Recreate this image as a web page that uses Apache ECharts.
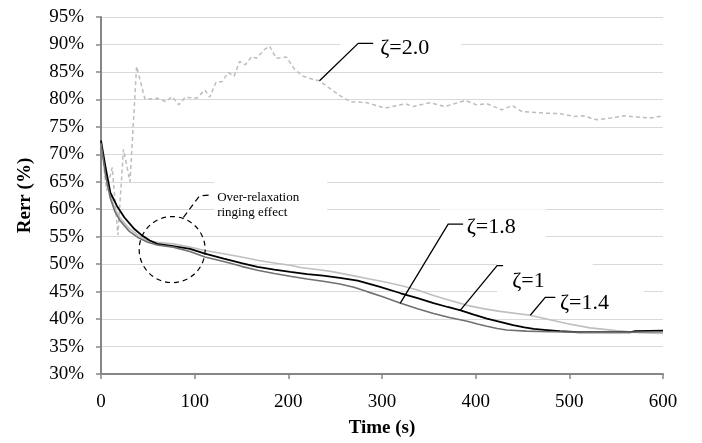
<!DOCTYPE html>
<html><head><meta charset="utf-8">
<script src="https://cdn.jsdelivr.net/npm/echarts/dist/echarts.min.js"></script>
<style>html,body{margin:0;padding:0;background:#fff}#c{width:702px;height:443px}</style>
</head><body><div id="c"></div>
<script>
// ---- data (time s, Rerr %) ----
const seriesNames = ['ζ=2.0', 'ζ=1.4', 'ζ=1', 'ζ=1.8'];
const zeta20 = [[0,72.4],[6,63.4],[12,67.6],[18,55.3],[24,70.9],[31,65],[38,86],[47,80],[60,80.2],[69,79.6],[76,80.5],[83,79],[90,80.4],[102,80.2],[111,81.7],[116,80.4],[123,83.2],[129,83.2],[136,84.9],[142,84.2],[148,86.9],[154,86.3],[161,87.8],[166,87.5],[174,89],[180,89.7],[187,87.5],[198,87.7],[207,85.4],[216,84.2],[225,83.7],[233,83.4],[245,81.9],[255,80.7],[266,79.6],[284,79.4],[303,78.4],[325,79.2],[333,78.7],[351,79.4],[367,78.7],[389,79.8],[401,79],[412,79.2],[428,78.1],[439,78.9],[449,77.8],[472,77.5],[490,77.4],[505,76.9],[515,77],[529,76.3],[544,76.6],[558,77],[572,76.8],[586,76.6],[600,77]];
const zeta10 = [[0,72.5],[5,67.5],[10,63],[13,62],[17,60.6],[25,58.5],[35,56.5],[44,55.2],[52,54.3],[60,53.7],[77,53.3],[95,52.8],[111,51.9],[131,51],[150,50.2],[167,49.5],[185,49],[202,48.6],[220,48.2],[237,47.9],[255,47.5],[274,47],[297,45.9],[320,44.7],[338,43.8],[355,42.9],[370,42.2],[384,41.6],[398,40.8],[412,40.1],[426,39.5],[440,38.9],[452,38.5],[462,38.2],[476,38],[490,37.8],[510,37.6],[540,37.6],[565,37.6],[570,37.8],[600,37.9]];
const zeta18 = [[0,72],[5,66],[10,62],[15,59.5],[20,58],[30,56],[40,54.8],[50,54],[60,53.5],[77,53.1],[95,52.3],[111,51.3],[131,50.5],[150,49.6],[167,48.9],[185,48.3],[202,47.8],[220,47.3],[237,46.9],[255,46.4],[270,45.8],[284,45],[300,44.1],[320,42.9],[338,41.9],[355,41],[372,40.3],[391,39.6],[402,39.1],[412,38.7],[423,38.3],[433,38],[454,37.8],[480,37.7],[520,37.6],[560,37.6],[600,37.7]];
const zeta14 = [[0,72],[5,66.5],[10,62.5],[15,60],[20,58.5],[30,56.5],[40,55.2],[50,54.3],[60,54],[77,53.7],[95,53.1],[111,52.5],[131,51.9],[150,51.3],[167,50.7],[185,50.2],[202,49.8],[213,49.4],[237,48.9],[248,48.6],[266,48],[284,47.4],[302,46.8],[320,46.1],[338,45.3],[355,44.3],[373,43.4],[391,42.5],[408,41.9],[426,41.4],[458,40.7],[497,39.2],[522,38.4],[550,37.9],[575,37.5],[600,37.4]];
const xTickValues = [0,100,200,300,400,500,600];
const yTickValues = [30,35,40,45,50,55,60,65,70,75,80,85,90,95];

// ---- annotation anchors (data coordinates) ----
const notes = [
  {text:'ζ=2.0', tip:[233.3,83.4], elbow:[274.6,90.2], end:[290.6,90.2], label:[298,89.3], pad:[5,32,5,40]},
  {text:'ζ=1.8', tip:[319.4,42.85], elbow:[370.6,57.3], end:[386.6,57.3], label:[390.4,56.7], pad:[7,30,15,27]},
  {text:'ζ=1', tip:[383.5,41.6], elbow:[422.9,49.73], end:[429.3,49.73], label:[439,46.85], pad:[10,48,0,15]},
  {text:'ζ=1.4', tip:[458.3,40.7], elbow:[474.3,43.96], end:[485,43.96], label:[490,42.9], pad:[4,35,0,35]}
];
const ringCenter = [76,52.65];
const ringLeader = [[88,58.5],[105,62.4],[116.6,62.6]];
const ringLabelPos = [124,63.4];

const FONT = '"Liberation Serif","Times New Roman",serif';
const chart = echarts.init(document.getElementById('c'));
chart.setOption({
  animation:false,
  backgroundColor:'#fff',
  grid:{left:101,right:39,top:17,bottom:67},
  xAxis:{type:'value',min:0,max:600,interval:100,
    name:'Time (s)',nameLocation:'middle',nameGap:45,
    nameTextStyle:{fontFamily:FONT,fontSize:19,fontWeight:'bold',color:'#000'},
    axisLine:{lineStyle:{color:'#868686',width:2}},
    axisTick:{show:true,length:5,lineStyle:{color:'#868686',width:1.5}},
    axisLabel:{margin:19,fontFamily:FONT,fontSize:19,color:'#000'},
    splitLine:{show:false}},
  yAxis:{type:'value',min:30,max:95,interval:5,
    name:'Rerr (%)',nameLocation:'middle',nameGap:66,
    nameTextStyle:{fontFamily:FONT,fontSize:19,fontWeight:'bold',color:'#000'},
    axisLine:{show:true,lineStyle:{color:'#868686',width:2}},
    axisTick:{show:true,length:5,lineStyle:{color:'#868686',width:1.5}},
    axisLabel:{margin:17,fontFamily:FONT,fontSize:19,color:'#000',formatter:'{value}%'},
    splitLine:{show:true,lineStyle:{color:'#d9d9d9',width:1.2}}},
  series:[
    {name:seriesNames[0],type:'line',data:zeta20,symbol:'none',lineStyle:{color:'#bdbdbd',width:1.5,type:[4,3]}},
    {name:seriesNames[1],type:'line',data:zeta14,symbol:'none',lineStyle:{color:'#bfbfbf',width:1.6}},
    {name:seriesNames[2],type:'line',data:zeta10,symbol:'none',lineStyle:{color:'#000',width:1.8}},
    {name:seriesNames[3],type:'line',data:zeta18,symbol:'none',lineStyle:{color:'#707070',width:1.6}}
  ]
});

const px = p => chart.convertToPixel({gridIndex:0}, p);
const els = [];
const FS = 22;
notes.forEach(n => {
  const a = px(n.tip), b = px(n.elbow), c = px(n.end), l = px(n.label);
  els.push({type:'text',z:1,style:{text:n.text,x:l[0]-n.pad[3],y:l[1]-FS/2-n.pad[0],font:FS+'px '+FONT,lineHeight:FS,fill:'#000',
    verticalAlign:'top',align:'left',backgroundColor:'#fff',padding:n.pad}});
  els.push({type:'polyline',z:100,shape:{points:[a,b,c]},style:{stroke:'#000',lineWidth:1.3,fill:null}});
});
const rc = px(ringCenter);
els.push({type:'circle',z:100,shape:{cx:rc[0],cy:rc[1],r:33},style:{fill:null,stroke:'#000',lineWidth:1.2,lineDash:[5,4]}});
els.push({type:'polyline',z:100,shape:{points:ringLeader.map(px)},style:{stroke:'#000',lineWidth:1.2,lineDash:[6,4],fill:null}});
const rl = px(ringLabelPos);
const rpad = [12,28,12,3];
els.push({type:'text',z:1,style:{text:'Over-relaxation\nringing effect',x:rl[0]-rpad[3],y:rl[1]-rpad[0],font:'13px '+FONT,lineHeight:15,
  fill:'#000',verticalAlign:'top',align:'left',backgroundColor:'#fff',padding:rpad}});
chart.setOption({graphic:{elements:els}});
</script>
</body></html>
